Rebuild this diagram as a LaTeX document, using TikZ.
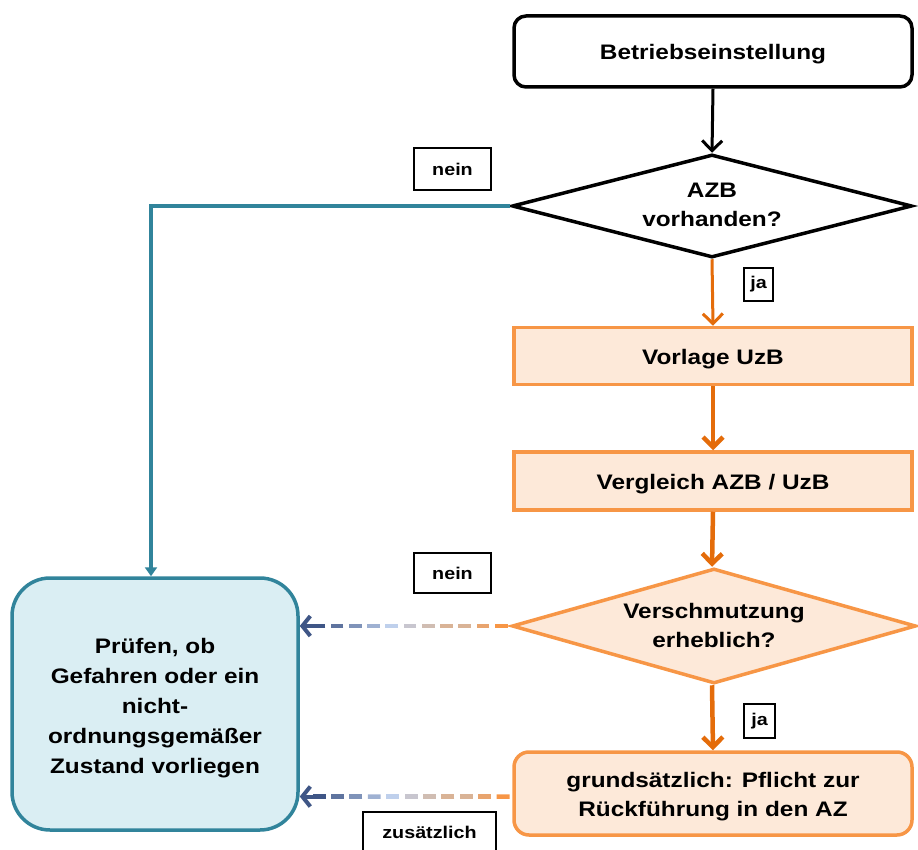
\documentclass[tikz,border=0pt]{standalone}
\usepackage{fontspec}
\setmainfont{Liberation Sans}[FakeStretch=1.16]
\usetikzlibrary{arrows.meta,shapes.geometric,calc}
\definecolor{tealC}{HTML}{31849B}
\definecolor{orgB}{HTML}{F79646}
\definecolor{orgA}{HTML}{E46C0A}
\definecolor{peach}{HTML}{FDE9D9}
\definecolor{lblue}{HTML}{DAEEF3}
\definecolor{darkB}{HTML}{3F5686}
\definecolor{lightB}{HTML}{BFD0EC}
\definecolor{tanC}{HTML}{D9B396}
\tikzset{
  mainfont/.style={font=\fontsize{21}{29}\selectfont\bfseries},
  onetext/.style={text height=16pt, text depth=0pt},
  whitebox/.style={draw=black, line width=3.5pt, fill=white, rounded corners=12pt, minimum width=398pt, minimum height=71pt, mainfont, onetext},
  peachbox/.style={draw=orgB, line width=3.5pt, fill=peach, minimum width=398pt, minimum height=57pt, mainfont, onetext},
  dia/.style={diamond, inner sep=0pt, line width=3.5pt},
  dtext/.style={mainfont, align=center, text width=300pt},
  lbl/.style={draw=black, line width=1.4pt, fill=white, font=\fontsize{17}{20}\selectfont\bfseries, inner sep=0pt},
  blkarrow/.style={draw=black, line width=3pt, -{Straight Barb[length=10pt,width=20pt]}},
  thinorg/.style={draw=orgA, line width=3pt, -{Straight Barb[length=10pt,width=20pt]}},
  thickorg/.style={draw=orgA, line width=4.5pt, -{Straight Barb[length=10pt,width=20pt]}},
  tealline/.style={draw=tealC, line width=3.5pt, -{Triangle[length=9pt,width=12pt]}},
}
\newcommand\gradarrow[2]{%
  \foreach \i in {0,...,10}{%
    \pgfmathsetmacro\sa{(\i+0.15)/11.55}%
    \pgfmathsetmacro\sb{(\i+0.85)/11.55}%
    \ifnum\i<6
      \ifnum\i<3
        \pgfmathtruncatemacro\q{\i*50}%
        \colorlet{gc}{tanC!\q!orgB}%
      \else
        \pgfmathtruncatemacro\q{(\i-3)*33}%
        \colorlet{gc}{lightB!\q!tanC}%
      \fi
    \else
      \pgfmathtruncatemacro\q{(\i-6)*25}%
      \colorlet{gc}{darkB!\q!lightB}%
    \fi
    \draw[line width=4.5pt, color=gc] ($(#1)!\sa!(#2)$) -- ($(#1)!\sb!(#2)$);
  }%
  \draw[darkB, line width=4pt, -{Straight Barb[length=8pt,width=20pt]}] ($(#1)!0.935!(#2)$) -- (#2);
}
\begin{document}
\begin{tikzpicture}[x=1pt,y=-1pt]
\useasboundingbox (0,0) rectangle (918,850);

% nodes
\node[whitebox] (b1) at (713,51.5) {Betriebseinstellung};
\node[dia, draw=black, fill=white, minimum width=400pt, minimum height=103pt] (d1) at (712,206) {};
\node[dtext, text height=15pt] (d1t) at (712,205) {AZB\\vorhanden?};
\node[peachbox] (v1) at (713,356) {Vorlage UzB};
\node[peachbox, minimum height=58pt] (v2) at (713,481) {Vergleich AZB / UzB};
\node[dia, draw=orgB, fill=peach, minimum width=404pt, minimum height=115pt] (d2) at (714,626) {};
\node[dtext] (d2t) at (714,625) {Verschmutzung\\erheblich?};
\node[peachbox, rounded corners=15pt, minimum height=83pt] (g1) at (713,793.5) {};
\node[mainfont, align=center] (g1t) at (713,796.5) {grundsätzlich: Pflicht zur\\Rückführung in den AZ};
\node[draw=tealC, line width=3.5pt, fill=lblue, rounded corners=38pt, minimum width=286pt, minimum height=252pt] (big) at (155,704) {};
\node[align=center, font=\fontsize{21}{30}\selectfont\bfseries] (bigt) at (155,708)
  {Prüfen, ob\\Gefahren oder ein\\nicht-\\ordnungsgemäßer\\Zustand vorliegen};

% labels
\node[lbl, minimum width=77pt, minimum height=42pt] (n1) at (452.5,169) {nein};
\node[lbl, minimum width=29pt, minimum height=33pt] (j1) at (758.5,284.5) {ja};
\node[lbl, minimum width=77pt, minimum height=40pt] (n2) at (452.5,573) {nein};
\node[lbl, minimum width=31pt, minimum height=34pt] (j2) at (759.5,721) {ja};
\node[lbl, minimum width=133pt, minimum height=40pt, text depth=0pt] (z1) at (429.5,832) {zusätzlich};

% connectors
\draw[blkarrow] (b1.south) -- (d1.north);
\coordinate (tc) at (151,206);
\draw[tealline] (d1.west) -- (tc) -- (tc |- big.north);
\draw[thinorg] (d1.south) -- (v1.north);
\draw[thickorg] (v1.south) -- (v2.north);
\draw[thickorg] (v2.south) -- ($(d2.north)+(-2,0)$);
\draw[thickorg] ($(d2.south)+(-2,0)$) -- (g1.north);

\coordinate (t1) at (big.east |- d2.west);
\coordinate (t2) at ($(big.east |- g1.west)+(0,3)$);
\coordinate (s2) at ($(g1.west)+(0,3)$);
\gradarrow{d2.west}{t1}
\gradarrow{s2}{t2}
\end{tikzpicture}
\end{document}
